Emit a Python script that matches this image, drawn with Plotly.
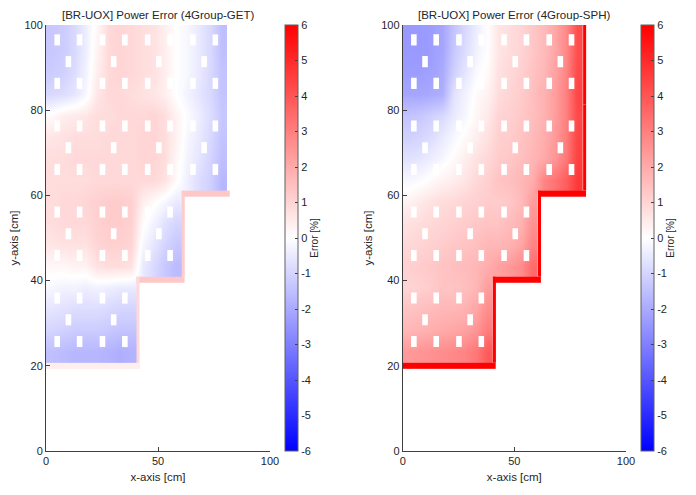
import plotly.graph_objects as go

# ---------------- data ----------------
titles = ["[BR-UOX] Power Error (4Group-GET)", "[BR-UOX] Power Error (4Group-SPH)"]
x_ticks = [0, 50, 100]
y_ticks = [0, 20, 40, 60, 80, 100]
cbar_ticks = [-6, -5, -4, -3, -2, -1, 0, 1, 2, 3, 4, 5, 6]

# assemblies per assembly-row, from top row to bottom row
row_assemblies = [4, 4, 3, 2]

# error [%] on a 4x4 sub-grid per assembly, rows listed from top (y=100) to bottom
get_err = [
    [-1.3, -1.2, -0.9, -0.4, 0.2, 0.9, 1.0, 0.9, 0.8, 0.7, 0.4, 0.0, -0.2, -0.5, -0.9, -1.5],
    [-1.3, -1.2, -0.9, -0.4, 0.3, 0.9, 1.0, 0.9, 0.8, 0.7, 0.4, 0.0, -0.2, -0.5, -0.9, -1.5],
    [-1.2, -1.1, -0.8, -0.3, 0.4, 0.9, 1.0, 0.9, 0.8, 0.7, 0.4, 0.0, -0.2, -0.5, -0.9, -1.4],
    [-0.9, -0.8, -0.6, -0.2, 0.6, 0.9, 0.9, 0.8, 0.7, 0.6, 0.4, 0.0, -0.3, -0.6, -0.9, -1.4],
    [0.1, 0.4, 0.5, 0.6, 0.8, 0.8, 0.9, 0.9, 0.9, 1.0, 0.8, 0.3, -0.1, -0.4, -0.8, -1.3],
    [0.6, 0.7, 0.8, 0.8, 0.8, 0.9, 0.9, 0.9, 1.0, 1.0, 0.8, 0.3, -0.2, -0.5, -0.9, -1.4],
    [0.8, 0.8, 0.9, 0.9, 0.9, 0.9, 0.9, 0.9, 1.0, 1.0, 0.8, 0.2, -0.3, -0.6, -1.0, -1.5],
    [0.8, 0.8, 0.8, 0.8, 0.9, 0.9, 0.9, 0.9, 0.9, 0.9, 0.7, 0.1, -0.4, -0.8, -1.1, -1.7],
    [0.8, 0.9, 0.9, 1.0, 1.1, 1.2, 1.2, 1.1, 0.4, 0.1, -0.2, -0.5, None, None, None, None],
    [0.8, 0.9, 0.9, 0.9, 1.1, 1.2, 1.2, 1.1, 0.1, -0.3, -0.7, -1.0, None, None, None, None],
    [0.6, 0.7, 0.7, 0.7, 1.0, 1.1, 1.1, 1.0, -0.2, -0.6, -1.0, -1.3, None, None, None, None],
    [0.2, 0.2, 0.3, 0.3, 0.7, 0.8, 0.8, 0.7, -0.5, -0.9, -1.3, -1.6, None, None, None, None],
    [-0.2, -0.3, -0.3, -0.4, -0.3, -0.4, -0.5, -0.5, None, None, None, None, None, None, None, None],
    [-0.6, -0.7, -0.8, -0.8, -0.8, -0.9, -1.0, -1.0, None, None, None, None, None, None, None, None],
    [-1.0, -1.1, -1.2, -1.2, -1.2, -1.3, -1.4, -1.4, None, None, None, None, None, None, None, None],
    [-1.5, -1.6, -1.7, -1.7, -1.7, -1.8, -1.9, -1.8, None, None, None, None, None, None, None, None],
]

sph_err = [
    [-2.4, -2.4, -2.3, -2.1, -1.4, -0.9, -0.4, 0.0, 0.6, 0.8, 1.0, 1.3, 1.6, 2.1, 2.8, 4.2],
    [-2.4, -2.4, -2.3, -2.1, -1.3, -0.8, -0.3, 0.0, 0.6, 0.8, 1.0, 1.3, 1.6, 2.1, 2.8, 4.2],
    [-2.3, -2.3, -2.2, -2.0, -1.1, -0.6, -0.1, 0.1, 0.7, 0.9, 1.1, 1.4, 1.7, 2.2, 2.9, 4.3],
    [-2.1, -2.1, -2.0, -1.9, -0.7, -0.3, 0.1, 0.3, 0.8, 1.0, 1.2, 1.5, 1.8, 2.3, 3.0, 4.4],
    [-1.4, -1.3, -1.1, -0.9, -0.5, -0.2, 0.2, 0.5, 1.0, 1.1, 1.3, 1.5, 1.8, 2.3, 3.0, 4.3],
    [-1.1, -1.0, -0.8, -0.5, -0.2, 0.1, 0.4, 0.7, 1.1, 1.2, 1.4, 1.6, 1.9, 2.4, 3.1, 4.4],
    [-0.7, -0.6, -0.4, -0.2, 0.1, 0.4, 0.7, 0.9, 1.2, 1.3, 1.5, 1.7, 2.0, 2.5, 3.2, 4.5],
    [-0.2, -0.1, 0.1, 0.3, 0.4, 0.6, 0.9, 1.1, 1.4, 1.5, 1.7, 1.9, 2.9, 3.3, 3.8, 4.7],
    [0.3, 0.5, 0.7, 0.8, 0.9, 1.0, 1.1, 1.2, 1.2, 1.3, 1.6, 2.3, None, None, None, None],
    [0.7, 0.8, 0.9, 1.0, 1.1, 1.2, 1.3, 1.4, 1.4, 1.6, 1.8, 2.6, None, None, None, None],
    [0.9, 1.0, 1.1, 1.2, 1.3, 1.4, 1.5, 1.7, 1.7, 1.8, 2.1, 2.9, None, None, None, None],
    [1.1, 1.2, 1.3, 1.4, 1.5, 1.6, 1.7, 1.9, 2.2, 2.4, 2.7, 3.5, None, None, None, None],
    [1.0, 1.1, 1.2, 1.4, 1.4, 1.5, 1.7, 2.3, None, None, None, None, None, None, None, None],
    [1.4, 1.5, 1.6, 1.7, 1.7, 1.8, 2.1, 2.7, None, None, None, None, None, None, None, None],
    [1.7, 1.8, 1.9, 2.0, 2.1, 2.2, 2.5, 3.1, None, None, None, None, None, None, None, None],
    [2.4, 2.5, 2.6, 2.7, 2.8, 2.9, 3.2, 3.9, None, None, None, None, None, None, None, None],
]

# reflector-boundary cell errors, per assembly row (top -> bottom)
get_side_err = [0.0, 0.0, 1.2, 0.9]        # cells right of each row
get_below_err = [None, 1.3, 1.3, 0.4]      # cells below the overhang of each row
sph_side_err = [6.5, 6.5, 6.5, 6.5]
sph_below_err = [None, 6.5, 6.5, 6.5]

# guide-tube pattern inside an assembly (offset from left edge / from centre, cm)
tube_dx = [5.0, 15.0, 10.0, 5.0, 15.0]
tube_dy = [5.1, 5.1, 0.0, -5.1, -5.1]

# ---------------- geometry / style ----------------
PITCH = 20.2
Y_TOP = 101.5
NSUB = 4
CELL = PITCH / NSUB
STRIP = 1.4
TUBE_W = 2.5
TUBE_H = 2.6

# the page body has an 8 px margin, so the figure is drawn 8 px in from the window edge
OFF = 8
W, H = 696 - 2 * OFF, 495 - 2 * OFF
FONT = "Liberation Sans, Arial, Helvetica, sans-serif"
TXT = "#262626"
cscale = [[0.0, "rgb(0,0,255)"], [0.5, "rgb(255,255,255)"], [1.0, "rgb(255,0,0)"]]

ncols = NSUB * max(row_assemblies)
nrows = NSUB * len(row_assemblies)
x_edges = [CELL * i for i in range(ncols + 1)]
y_edges = [Y_TOP - CELL * (nrows - j) for j in range(nrows + 1)]

# window-pixel positions of the plot areas / colorbars
plot_px = [(46 - OFF, 270 - OFF), (402.7 - OFF, 626 - OFF)]
top_px, bot_px = 25 - OFF, 451 - OFF
cbar_px = [285 - OFF, 641 - OFF]

fig = go.Figure()
shapes = []
annotations = []

datasets = [(get_err, get_side_err, get_below_err), (sph_err, sph_side_err, sph_below_err)]

for k, (err, side, below) in enumerate(datasets):
    xa = "x" if k == 0 else "x2"
    ya = "y" if k == 0 else "y2"
    cax = "coloraxis" if k == 0 else "coloraxis2"

    fig.add_trace(go.Heatmap(
        x=x_edges, y=y_edges, z=err[::-1], coloraxis=cax,
        zsmooth="best", xaxis=xa, yaxis=ya, hoverinfo="skip"))

    nrow = len(row_assemblies)
    for r in range(nrow):
        n = row_assemblies[r]
        top = Y_TOP - PITCH * r
        bottom = top - PITCH
        fig.add_trace(go.Heatmap(
            x=[n * PITCH, n * PITCH + STRIP], y=[bottom, top], z=[[side[r]]],
            coloraxis=cax, xaxis=xa, yaxis=ya, hoverinfo="skip"))
        if below[r] is not None:
            n_next = row_assemblies[r + 1] if r + 1 < nrow else 0
            fig.add_trace(go.Heatmap(
                x=[n_next * PITCH, n * PITCH + STRIP], y=[bottom - STRIP, bottom],
                z=[[below[r]]], coloraxis=cax, xaxis=xa, yaxis=ya, hoverinfo="skip"))
        cy = top - PITCH / 2
        for c in range(n):
            for dx, dy in zip(tube_dx, tube_dy):
                tx = c * PITCH + dx
                ty = cy + dy
                shapes.append(dict(type="rect", xref=xa, yref=ya,
                                   x0=tx - TUBE_W / 2, x1=tx + TUBE_W / 2,
                                   y0=ty - TUBE_H / 2, y1=ty + TUBE_H / 2,
                                   fillcolor="white", line=dict(width=0), layer="above"))

    x0p, x1p = plot_px[k]
    annotations.append(dict(text=titles[k], xref="paper", yref="paper",
                            x=(x0p + x1p) / 2 / W, y=1 - top_px / H + 2 / H,
                            xanchor="center", yanchor="bottom", showarrow=False,
                            font=dict(size=11.5, color=TXT, family=FONT)))

axis_common = dict(showgrid=False, zeroline=False, showline=True, linecolor="#404040",
                   linewidth=1, ticks="inside", ticklen=4, tickcolor="#404040",
                   automargin=False,
                   tickfont=dict(size=11, color=TXT, family=FONT))

def cbar(k):
    return dict(cmin=-6, cmax=6, colorscale=cscale,
                colorbar=dict(x=cbar_px[k] / W, xanchor="left", xpad=0, ypad=0,
                              y=1 - bot_px / H, yanchor="bottom",
                              len=bot_px - top_px, lenmode="pixels",
                              thickness=13, thicknessmode="pixels",
                              outlinewidth=1, outlinecolor="#606060",
                              tickmode="array", tickvals=cbar_ticks,
                              ticktext=[str(t) for t in cbar_ticks],
                              ticks="inside", ticklen=3, tickcolor="#404040",
                              tickfont=dict(size=11, color=TXT, family=FONT),
                              title=dict(text="Error [%]", side="right",
                                         font=dict(size=10, color=TXT, family=FONT))))

layout = dict(
    width=W, height=H, margin=dict(l=0, r=0, t=0, b=0, autoexpand=False),
    paper_bgcolor="white", plot_bgcolor="white",
    font=dict(family=FONT, color=TXT),
    showlegend=False,
    shapes=shapes, annotations=annotations,
    coloraxis=cbar(0), coloraxis2=cbar(1),
)
for k in range(2):
    sx = "" if k == 0 else "2"
    x0p, x1p = plot_px[k]
    layout["xaxis" + sx] = dict(axis_common, domain=[x0p / W, x1p / W], range=[0, 100],
                                tickvals=x_ticks, anchor="y" + sx,
                                title=dict(text="x-axis [cm]", standoff=6,
                                           font=dict(size=11.5, color=TXT, family=FONT)))
    layout["yaxis" + sx] = dict(axis_common, domain=[1 - bot_px / H, 1 - top_px / H],
                                range=[0, 100], tickvals=y_ticks, anchor="x" + sx,
                                title=dict(text="y-axis [cm]", standoff=6,
                                           font=dict(size=11.5, color=TXT, family=FONT)))

fig.update_layout(**layout)
fig.write_html("out.html")
